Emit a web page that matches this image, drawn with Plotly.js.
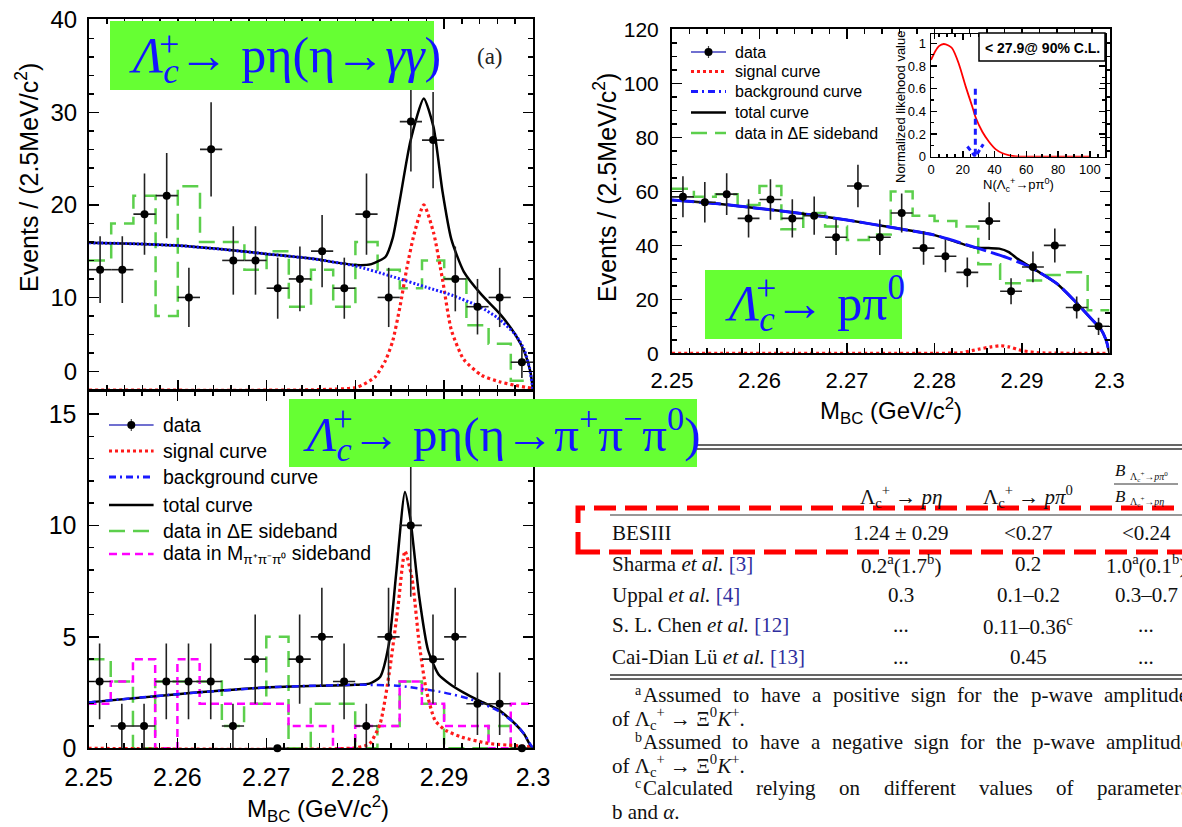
<!DOCTYPE html>
<html><head><meta charset="utf-8">
<script src="https://cdn.plot.ly/plotly-3.0.1.min.js"></script>
<style>html,body{margin:0;padding:0;background:#fff}#chart{width:1182px;height:827px}</style>
</head><body><div id="chart"></div>
<script>
const W = 1182, H = 827;
const px = x => x / W, py = y => 1 - y / H;

// ---------------- data ----------------
const binCenters = [2.25125,2.25375,2.25625,2.25875,2.26125,2.26375,2.26625,2.26875,2.27125,2.27375,
                    2.27625,2.27875,2.28125,2.28375,2.28625,2.28875,2.29125,2.29375,2.29625,2.29875];
const halfBin = 0.00125;

// (a) Lambda_c -> p eta (eta -> gamma gamma)
const aCounts = [13,13,19,21,10,26,14,14,11,12,15,11,19,10,29,27,12,9,10,3];
const aErr    = [3.6,3.6,4.4,4.6,3.2,5.1,3.7,3.7,3.3,3.5,3.9,3.3,4.4,3.2,5.4,5.2,3.5,3.0,3.2,1.7];
const aSideDE = [14,18,21,8,22,16,16,13,15,9,13,9,16,13,11,14,12,7,5,1];
const aTotX = [2.25,2.255,2.26,2.265,2.27,2.275,2.28,2.2818,2.2834,2.2842,2.285,2.2862,2.2877,2.2888,2.2898,2.2908,2.2922,2.2942,2.2962,2.298,2.299,2.2997,2.30];
const aTotY = [15.9,15.8,15.6,15.2,14.7,14.2,13.5,13.6,14.4,16.4,20.5,26.9,31.5,28.4,21.5,16.3,12.8,10.3,8.3,6.0,4.2,2.0,0];
const aBgX  = [2.25,2.255,2.26,2.265,2.27,2.275,2.28,2.284,2.288,2.291,2.294,2.296,2.298,2.299,2.2996,2.30];
const aBgY  = [15.9,15.8,15.6,15.2,14.7,14.2,13.4,12.3,11.1,10.2,9.0,7.8,6.0,4.4,2.4,0];
const aSigX = [2.25,2.275,2.2802,2.2822,2.2834,2.2842,2.285,2.2858,2.2866,2.2877,2.2888,2.2898,2.2908,2.2922,2.2942,2.2962,2.298,2.2998];
const aSigY = [0,0.02,0.3,1.4,3.2,5.3,8.9,13.2,16.8,20.0,17.0,12.0,6.5,3.3,1.6,0.9,0.5,0.2];

// (b) Lambda_c -> p eta (eta -> pi+ pi- pi0)
const bCounts = [3,1,1,3,3,3,1,4,0,4,5,3,1,5,10,4,5,2,2,0];
const bErr    = [1.7,1,1,1.7,1.7,1.7,1,2,0,2,2.2,1.7,1,2.2,3.2,2,2.2,1.4,1.4,0];
const bSideDE = [4,3,0,3,3,3,1,2,5,0,2,2,0,1,3,2,0,0,1,0];
const bSideM  = [2,3,4,0,4,2,2,2,2,1,1,0,1,1,3,2,1,1,0,2];
const bTotX = [2.25,2.26,2.27,2.28,2.2816,2.2828,2.2838,2.2846,2.2856,2.2862,2.2872,2.2882,2.2894,2.2906,2.2922,2.294,2.296,2.298,2.299,2.2996,2.30];
const bTotY = [2.06,2.43,2.73,2.85,2.9,3.2,4.7,7.8,11.5,10.3,6.8,4.4,3.3,2.9,2.5,2.13,1.76,1.09,0.64,0.2,0];
const bBgX  = [2.25,2.26,2.27,2.28,2.285,2.29,2.293,2.296,2.298,2.299,2.2998,2.30];
const bBgY  = [2.06,2.43,2.73,2.85,2.8,2.5,2.2,1.7,1.1,0.64,0.12,0];
const bSigX = [2.25,2.28,2.2816,2.2828,2.2838,2.2848,2.2856,2.2864,2.2872,2.288,2.289,2.2902,2.292,2.295,2.298,2.30];
const bSigY = [0,0.02,0.2,1.1,3.3,6.3,8.85,7.6,4.7,2.6,1.24,0.8,0.5,0.22,0.12,0.05];

// (c) Lambda_c -> p pi0
const cCounts = [58,56,59,50,57,50,51,43,62,43,52,39,36,30,49,23,32,40,17,10];
const cErr    = [7.6,7.5,7.7,7.1,7.5,7.1,7.1,6.6,7.9,6.6,7.2,6.2,6.0,5.5,7.0,4.8,5.7,6.3,4.1,3.2];
const cSideDE = [61,58,59,55,62,46,52,47,42,44,60,51,49,47,33,26,27,29,30,16];
const cBgX  = [2.25,2.255,2.26,2.265,2.27,2.275,2.28,2.285,2.288,2.29,2.292,2.294,2.296,2.298,2.299,2.2996,2.30];
const cBgY  = [56.8,55.5,53.7,51.7,49.4,46.7,43.8,38.9,35.8,33.3,30.0,25.8,19.5,12.5,9.0,5.0,0];
const cTotX = [2.25,2.255,2.26,2.265,2.27,2.275,2.28,2.2846,2.2862,2.2874,2.2885,2.2895,2.2905,2.292,2.294,2.296,2.298,2.299,2.2996,2.30];
const cTotY = [56.8,55.5,53.7,51.7,49.4,46.7,43.8,39.2,39.0,38.8,37.5,35.0,33.0,30.0,25.8,19.5,12.5,9.0,5.0,0];
const cSigX = [2.25,2.28,2.283,2.285,2.2865,2.2876,2.2885,2.29,2.292,2.30];
const cSigY = [0,0,0.2,1.5,2.4,2.8,2.4,1.0,0.2,0];

// inset: normalized likelihood
const likeX = [0,2.7,5,8,11,13.3,17.5,21.8,26,28,32.3,36.6,40.8,45,49.3,53.5,60,80,100];
const likeY = [0.853,0.93,0.975,0.994,0.98,0.956,0.82,0.62,0.44,0.35,0.22,0.13,0.065,0.03,0.012,0.003,0,0,0];
const upperLimit = 27.9;

// legend labels
const legTop = ['data','signal curve','background curve','total curve','data in ΔE sideband'];
const legBottom = ['data','signal curve','background curve','total curve','data in ΔE sideband',
                   'data in M<sub>π⁺π⁻π⁰</sub> sideband'];

// table content
const tableRows = ['BESIII', 'Sharma <i>et al.</i> [3]', 'Uppal <i>et al.</i> [4]', 'S. L. Chen <i>et al.</i> [12]', 'Cai-Dian Lü <i>et al.</i> [13]'];
const colPeta  = ['1.24 ± 0.29', '0.2<sup>a</sup>(1.7<sup>b</sup>)', '0.3', '...', '...'];
const colPpi0  = ['&lt;0.27', '0.2', '0.1–0.2', '0.11–0.36<sup>c</sup>', '0.45'];
const colRatio = ['&lt;0.24', '1.0<sup>a</sup>(0.1<sup>b</sup>)', '0.3–0.7', '...', '...'];
const foot1 = ['Assumed','to','have','a','positive','sign','for','the','p-wave','amplitude'];
const foot2 = ['Assumed','to','have','a','negative','sign','for','the','p-wave','amplitude'];
const foot3 = ['Calculated','relying','on','different','values','of','parameters'];

// ---------------- helpers ----------------
const GREEN = '#5ccf4c', MAG = '#ff00ff', RED = '#ff1a1a', BLUE = '#1a1aff';
const DASH = {sig:'3px,3px', bg:'7px,4px,2px,4px', de:'16px,8px', m:'8px,5px'};
function dataTrace(xa, ya, y, err) {
  return {type:'scatter', mode:'markers', x:binCenters, y:y, xaxis:xa, yaxis:ya,
    marker:{color:'black', size:8},
    error_y:{type:'data', array:err, visible:true, thickness:1.6, width:0, color:'#222'},
    error_x:{type:'constant', value:halfBin, visible:true, thickness:1.6, width:0, color:'#222'},
    showlegend:false, cliponaxis:false, hoverinfo:'skip'};
}
function stepTrace(xa, ya, vals, color, dash) {
  const ex = binCenters.map(c => c - halfBin).concat([binCenters[binCenters.length-1] + halfBin]);
  const ey = vals.concat([vals[vals.length-1]]);
  return {type:'scatter', mode:'lines', x:ex, y:ey, xaxis:xa, yaxis:ya,
    line:{shape:'hv', color:color, width:2.5, dash:dash}, showlegend:false, cliponaxis:false, hoverinfo:'skip'};
}
function curve(xa, ya, x, y, color, width, dash) {
  return {type:'scatter', mode:'lines', x:x, y:y, xaxis:xa, yaxis:ya,
    line:{shape:'spline', smoothing:0.6, color:color, width:width, dash:dash},
    showlegend:false, cliponaxis:false, hoverinfo:'skip'};
}

const traces = [
  stepTrace('x','y', aSideDE, GREEN, DASH.de),
  curve('x','y', aSigX, aSigY, RED, 3.2, DASH.sig),
  curve('x','y', aTotX, aTotY, 'black', 2.5, 'solid'),
  curve('x','y', aBgX, aBgY, BLUE, 3, '2px,2px'),
  dataTrace('x','y', aCounts, aErr),
  stepTrace('x2','y2', bSideDE, GREEN, DASH.de),
  stepTrace('x2','y2', bSideM, MAG, DASH.m),
  curve('x2','y2', bSigX, bSigY, RED, 3.2, DASH.sig),
  curve('x2','y2', bTotX, bTotY, 'black', 2.5, 'solid'),
  curve('x2','y2', bBgX, bBgY, BLUE, 2.5, DASH.bg),
  dataTrace('x2','y2', bCounts, bErr),
  stepTrace('x3','y3', cSideDE, GREEN, DASH.de),
  curve('x3','y3', cSigX, cSigY, RED, 3.2, DASH.sig),
  curve('x3','y3', cTotX, cTotY, 'black', 2.5, 'solid'),
  curve('x3','y3', cBgX, cBgY, '#1515ff', 3, '22px,5px'),
  dataTrace('x3','y3', cCounts, cErr),
  curve('x4','y4', likeX, likeY, '#ff0000', 1.8, 'solid'),
  {type:'scatter', mode:'lines', x:[upperLimit, upperLimit], y:[0.6, 0], xaxis:'x4', yaxis:'y4',
   line:{color:'#1a1aff', width:3, dash:'6px,4px'}, showlegend:false, hoverinfo:'skip'},
  {type:'scatter', mode:'lines', x:[upperLimit-5, upperLimit, upperLimit+5], y:[0.09, 0, 0.11], xaxis:'x4', yaxis:'y4',
   line:{color:'#1a1aff', width:3, dash:'5px,3px'}, showlegend:false, hoverinfo:'skip'}
];

// ---------------- axes ----------------
const SANS = 'Liberation Sans, Arial, sans-serif';
const SERIF = 'Liberation Serif, Times New Roman, serif';
const axBase = {showline:true, linecolor:'black', linewidth:2, mirror:'allticks', ticks:'inside',
  ticklen:10, tickwidth:1.5, tickcolor:'black', showgrid:false, zeroline:false, fixedrange:true};
const minorBase = {ticks:'inside', ticklen:5, tickwidth:1.5, tickcolor:'black', showgrid:false};
function ax(o) { return Object.assign({}, axBase, o); }

const layout = {
  width:W, height:H, margin:{l:0,r:0,t:0,b:0}, paper_bgcolor:'white', plot_bgcolor:'rgba(0,0,0,0)',
  showlegend:false,
  xaxis: ax({domain:[px(89),px(533)], range:[2.25,2.30], tick0:2.25, dtick:0.01, showticklabels:false,
    minor:Object.assign({}, minorBase, {dtick:0.002, tick0:2.25}), anchor:'y'}),
  yaxis: ax({domain:[py(390),py(19.3)], range:[0,40.05], tickmode:'array', tickvals:[2,10,20,30,40],
    ticktext:['0','10','20','30','40'], tickfont:{family:SANS,size:24,color:'black'}, ticklabelstandoff:5,
    minor:Object.assign({}, minorBase, {tickmode:'linear', dtick:2, tick0:0}), anchor:'x'}),
  xaxis2: ax({domain:[px(88.5),px(533)], range:[2.25,2.30], tick0:2.25, dtick:0.01,
    tickfont:{family:SANS,size:25,color:'black'}, ticklabelstandoff:6,
    minor:Object.assign({}, minorBase, {dtick:0.002, tick0:2.25}), anchor:'y2'}),
  yaxis2: ax({domain:[py(748.3),py(391)], range:[0,16.03], tick0:0, dtick:5,
    tickfont:{family:SANS,size:25,color:'black'}, ticklabelstandoff:5,
    minor:Object.assign({}, minorBase, {dtick:1, tick0:0}), anchor:'x2'}),
  xaxis3: ax({domain:[px(672),px(1109.5)], range:[2.25,2.30], tick0:2.25, dtick:0.01,
    tickfont:{family:SANS,size:22,color:'black'}, ticklabelstandoff:6,
    minor:Object.assign({}, minorBase, {dtick:0.002, tick0:2.25}), anchor:'y3'}),
  yaxis3: ax({domain:[py(353.3),py(29.3)], range:[0,120.1], tick0:0, dtick:20,
    tickfont:{family:SANS,size:21,color:'black'}, ticklabelstandoff:7,
    minor:Object.assign({}, minorBase, {dtick:5, tick0:0}), anchor:'x3'}),
  xaxis4: ax({domain:[px(931),px(1105)], range:[0,109.5], tick0:0, dtick:20, linewidth:1.5, ticklen:6,
    tickfont:{family:SANS,size:13,color:'black'}, ticklabelstandoff:0,
    minor:Object.assign({}, minorBase, {dtick:5, tick0:0, ticklen:3}), anchor:'y4'}),
  yaxis4: ax({domain:[py(156.7),py(34)], range:[0,1.082], tick0:0, dtick:0.2, linewidth:1.5, ticklen:6,
    tickfont:{family:SANS,size:13,color:'black'}, ticklabelstandoff:1,
    minor:Object.assign({}, minorBase, {dtick:0.1, tick0:0, ticklen:3}), anchor:'x4'}),
  shapes: [], annotations: []
};

const S = layout.shapes, A = layout.annotations;
function rectPx(x0,y0,x1,y1,o) { S.push(Object.assign({type:'rect', xref:'paper', yref:'paper', x0:px(x0), x1:px(x1), y0:py(y1), y1:py(y0)}, o)); }
function linePx(x0,y0,x1,y1,o) { S.push(Object.assign({type:'line', xref:'paper', yref:'paper', x0:px(x0), x1:px(x1), y0:py(y0), y1:py(y1)}, o)); }
function dotPx(x,y,r,color) { S.push({type:'circle', xref:'paper', yref:'paper', x0:px(x-r), x1:px(x+r), y0:py(y+r), y1:py(y-r), fillcolor:color, line:{width:0}}); }
function txt(x, y, text, o) {
  A.push(Object.assign({xref:'paper', yref:'paper', x:px(x), y:py(y), text:text, showarrow:false,
    xanchor:'center', yanchor:'middle', font:{family:SANS, size:16, color:'black'}}, o));
}

// manual legends
const legStyles = [
  null,
  {color:RED, width:3, dash:DASH.sig},
  {color:BLUE, width:3, dash:DASH.bg},
  {color:'black', width:2.5},
  {color:GREEN, width:2.5, dash:DASH.de},
  {color:MAG, width:2.5, dash:DASH.m}
];
function drawLegend(labels, x0, x1, xt, ys, size) {
  labels.forEach((lab, i) => {
    const y = ys[i];
    if (i === 0) {
      linePx(x0, y, x1, y, {line:{color:'#4040c0', width:1.5}});
      linePx((x0+x1)/2, y-6, (x0+x1)/2, y+6, {line:{color:'#444', width:1.2}});
      dotPx((x0+x1)/2, y, 4, 'black');
    } else {
      linePx(x0, y, x1, y, {line:legStyles[i]});
    }
    txt(xt, y, lab, {xanchor:'left', font:{family:SANS, size:size, color:'black'}});
  });
}
drawLegend(legTop, 691, 726, 733, [52, 71.5, 91.5, 112.5, 133], 16);
drawLegend(legBottom, 109, 153.6, 161, [425, 451, 477, 505, 531, 554], 19.5);

// inset legend box
rectPx(979, 33, 1105, 61, {line:{color:'black', width:1.5}, fillcolor:'white', layer:'above'});
txt(1042, 47.5, '&lt; 27.9@ 90% C.L.', {font:{family:SANS, size:14, color:'black', weight:'bold'}});

// axis titles
txt(27, 178, 'Events / (2.5MeV/c<sup>2</sup>)', {textangle:-90, font:{family:SANS, size:25, color:'black'}});
txt(605, 188, 'Events / (2.5MeV/c<sup>2</sup>)', {textangle:-90, font:{family:SANS, size:25, color:'black'}});
txt(318, 809, 'M<sub>BC</sub> (GeV/c<sup>2</sup>)', {font:{family:SANS, size:24, color:'black'}});
txt(891, 411, 'M<sub>BC</sub> (GeV/c<sup>2</sup>)', {font:{family:SANS, size:24, color:'black'}});
txt(901, 107, 'Normalized likehood value', {textangle:-90, font:{family:SANS, size:13, color:'black'}});
txt(1018, 185, 'N(Λ<sub>c</sub><sup>+</sup>→pπ<sup>0</sup>)', {font:{family:SANS, size:13, color:'black'}});
txt(490, 57, '(a)', {font:{family:SERIF, size:23, color:'#222'}});

// green decay labels
const LBL = '#1414ff', LGREEN = '#66ff33';
rectPx(110, 21, 434, 90, {fillcolor:LGREEN, line:{width:0}, layer:'above'});
rectPx(705, 270, 902, 339, {fillcolor:LGREEN, line:{width:0}, layer:'above'});

// table lines (drawn before label 3 box)
linePx(610, 445, 1190, 445, {line:{color:'#333', width:1.5}});
linePx(610, 449, 1190, 449, {line:{color:'#333', width:1.5}});
linePx(610, 515, 1190, 515, {line:{color:'#333', width:1.2}});
linePx(610, 675, 1190, 675, {line:{color:'#333', width:1.5}});
linePx(610, 679, 1190, 679, {line:{color:'#333', width:1.5}});
linePx(1114, 484, 1178, 484, {line:{color:'#333', width:1}});
rectPx(578, 508, 1195, 552, {line:{color:'#ff0000', width:5, dash:'22px,9px'}, fillcolor:'rgba(0,0,0,0)'});

rectPx(289, 399, 697, 467, {fillcolor:LGREEN, line:{width:0}, layer:'above'});

function physLabel(x, y, size, rest, plusDx) {
  txt(x, y, '<i>Λ</i><sub><i>c</i></sub>' + rest, {xanchor:'left', font:{family:SERIF, size:size, color:LBL}});
  txt(x + plusDx, y - 0.3*size, '+', {xanchor:'left', font:{family:SERIF, size:Math.round(size*0.72), color:LBL}});
}
physLabel(127, 59, 50, '→ pη(η→<i>γγ</i>)', 30);
physLabel(723, 303, 50, '→ pπ<sup>0</sup>', 31);
physLabel(301, 434, 49, '→ pη(η→π<sup>+</sup>π<sup>−</sup>π<sup>0</sup>)', 30);

// ---------------- table ----------------
const TF = {family:SERIF, size:21, color:'#111'};
const colX = [901, 1028, 1146];
const rowY = [533, 564, 595, 625, 656.5];
function refColor(s) { return s.replace(/\[(\d+)\]/, "<span style='color:#2e2e9e'>[$1]</span>"); }
txt(colX[0], 497, 'Λ<sub>c</sub><sup>+</sup> → <i>pη</i>', {font:TF});
txt(colX[1], 497, 'Λ<sub>c</sub><sup>+</sup> → <i>pπ</i><sup>0</sup>', {font:TF});
txt(1120, 471, '<i>B</i>', {font:{family:SERIF, size:17, color:'#111'}});
txt(1128, 477, 'Λ<sub>c</sub><sup>+</sup>→<i>pπ</i><sup>0</sup>', {xanchor:'left', font:{family:SERIF, size:10, color:'#111'}});
txt(1120, 496, '<i>B</i>', {font:{family:SERIF, size:17, color:'#111'}});
txt(1128, 502, 'Λ<sub>c</sub><sup>+</sup>→<i>pη</i>', {xanchor:'left', font:{family:SERIF, size:10, color:'#111'}});
tableRows.forEach((n, i) => {
  txt(610, rowY[i], refColor(n), {xanchor:'left', font:TF});
  txt(colX[0], rowY[i], colPeta[i], {font:TF});
  txt(colX[1], rowY[i], colPpi0[i], {font:TF});
  txt(colX[2], rowY[i], colRatio[i], {font:TF});
});

// justified footnote lines, words measured with the same font
const cv = document.createElement('canvas').getContext('2d');
function measure(t) { cv.font = '21px "Liberation Serif"'; return cv.measureText(t).width; }
function justify(words, x0, x1, y) {
  const ws = words.map(measure);
  const total = ws.reduce((a, b) => a + b, 0);
  const gap = (x1 - x0 - total) / (words.length - 1);
  let x = x0;
  words.forEach((w, i) => { txt(x, y, w, {xanchor:'left', font:TF}); x += ws[i] + gap; });
}
txt(633, 690, 'a', {xanchor:'left', font:{family:SERIF, size:14, color:'#111'}});
justify(foot1, 641, 1186, 695);
txt(610, 718, 'of Λ<sub>c</sub><sup>+</sup> → Ξ<sup>0</sup><i>K</i><sup>+</sup>.', {xanchor:'left', font:TF});
txt(633, 737, 'b', {xanchor:'left', font:{family:SERIF, size:14, color:'#111'}});
justify(foot2, 641, 1188, 741.7);
txt(610, 765, 'of Λ<sub>c</sub><sup>+</sup> → Ξ<sup>0</sup><i>K</i><sup>+</sup>.', {xanchor:'left', font:TF});
txt(633, 783, 'c', {xanchor:'left', font:{family:SERIF, size:14, color:'#111'}});
justify(foot3, 641, 1187, 788.3);
txt(610, 811.7, 'b and <i>α</i>.', {xanchor:'left', font:TF});

Plotly.newPlot('chart', traces, layout, {staticPlot:true, displayModeBar:false});
</script></body></html>
